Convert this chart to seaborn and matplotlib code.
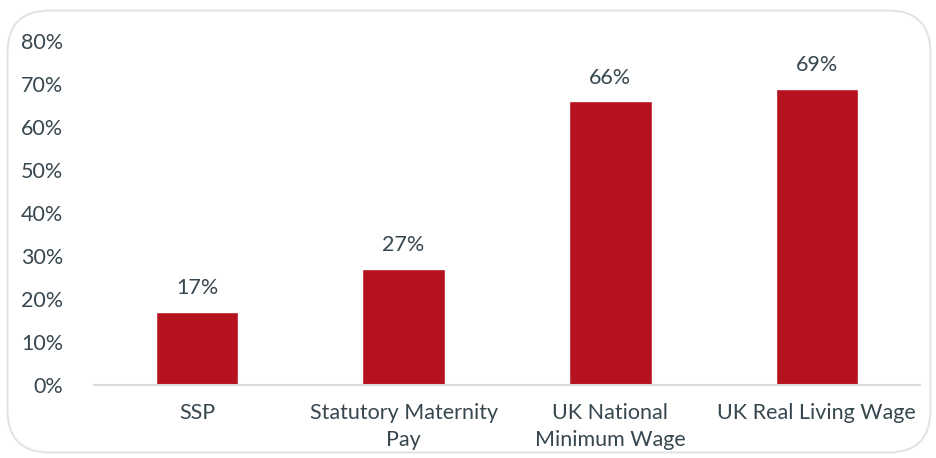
import matplotlib
matplotlib.use("Agg")
import matplotlib.pyplot as plt
import seaborn as sns
import pandas as pd
from matplotlib.patches import FancyBboxPatch
from matplotlib.ticker import FuncFormatter

categories = ["SSP", "Statutory Maternity\nPay", "UK National\nMinimum Wage", "UK Real Living Wage"]
values = [17, 27, 66, 69]
yticks = [0, 10, 20, 30, 40, 50, 60, 70, 80]

sns.set_theme(style="white")
plt.rcParams['font.family'] = ['Lato', 'DejaVu Sans']
text_color = "#37474F"
bar_color = "#B5121E"
fs = 15.5

df = pd.DataFrame({"cat": categories, "val": values})

fig = plt.figure(figsize=(9.37, 4.58), dpi=100)
ax = fig.add_axes([0.100, 0.159, 0.882, 0.751])

border = FancyBboxPatch((0.008, 0.012), 0.985, 0.965, boxstyle="round,pad=0,rounding_size=0.045",
                        transform=fig.transFigure, facecolor="white", edgecolor="#E3E3E3",
                        linewidth=1.5, mutation_aspect=937/458, zorder=-10)
fig.patches.append(border)

sns.barplot(data=df, x="cat", y="val", color=bar_color, width=0.40, saturation=1, ax=ax)
for p, v in zip(ax.patches, values):
    ax.text(p.get_x() + p.get_width() / 2, v + 3.2, f"{v}%", ha="center", va="bottom",
            fontsize=fs, color=text_color)

ax.set_ylim(0, 80)
ax.set_yticks(yticks)
ax.yaxis.set_major_formatter(FuncFormatter(lambda y, _: f"{int(y)}%"))
ax.set_xlabel("")
ax.set_ylabel("")
for s in ["top", "right", "left"]:
    ax.spines[s].set_visible(False)
ax.spines["bottom"].set_color("#DCDCDC")
ax.spines["bottom"].set_linewidth(1.5)
ax.tick_params(axis="both", length=0, labelsize=fs, colors=text_color)
ax.tick_params(axis="y", pad=22)
ax.tick_params(axis="x", pad=13)
ax.patch.set_alpha(0)
for lbl in ax.get_xticklabels():
    lbl.set_linespacing(1.4)

fig.savefig("out.png", dpi=100, facecolor="white")
